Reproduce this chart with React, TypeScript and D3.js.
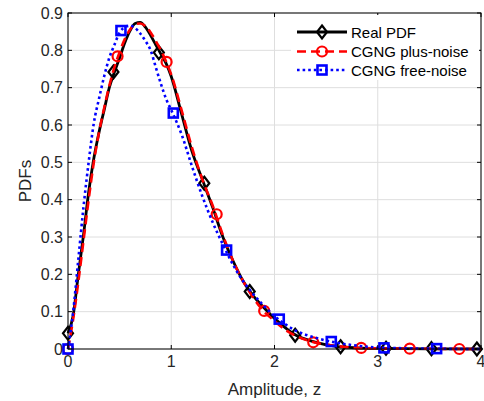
import React from "react";
import * as d3 from "d3";

const zGrid = [0, 0.05, 0.1, 0.15, 0.2, 0.25, 0.3, 0.35, 0.4, 0.45, 0.5, 0.55, 0.6, 0.65, 0.7, 0.75, 0.8, 0.85, 0.9, 0.95, 1.0, 1.1, 1.2, 1.3, 1.4, 1.5, 1.6, 1.7, 1.8, 1.9, 2.0, 2.1, 2.2, 2.4, 2.6, 2.8, 3.0, 3.5, 4.0];
const realPdf = [0.042, 0.09, 0.2, 0.305, 0.42, 0.51, 0.58, 0.64, 0.7, 0.742, 0.78, 0.82, 0.852, 0.872, 0.875, 0.862, 0.84, 0.815, 0.79, 0.765, 0.73, 0.63, 0.53, 0.455, 0.38, 0.3, 0.235, 0.18, 0.14, 0.11, 0.082, 0.058, 0.038, 0.018, 0.007, 0.003, 0.0015, 0.0005, 0];
const plusNoise = [0, 0.08, 0.18, 0.29, 0.4, 0.5, 0.58, 0.645, 0.705, 0.755, 0.795, 0.83, 0.855, 0.87, 0.872, 0.865, 0.848, 0.825, 0.8, 0.77, 0.735, 0.64, 0.54, 0.455, 0.385, 0.305, 0.235, 0.18, 0.135, 0.1, 0.075, 0.052, 0.036, 0.017, 0.008, 0.003, 0.0015, 0.0005, 0];
const freeNoise = [0, 0.1, 0.24, 0.38, 0.5, 0.605, 0.67, 0.73, 0.78, 0.815, 0.848, 0.862, 0.866, 0.86, 0.845, 0.825, 0.8, 0.755, 0.71, 0.67, 0.64, 0.575, 0.49, 0.41, 0.34, 0.28, 0.225, 0.18, 0.145, 0.115, 0.088, 0.067, 0.05, 0.03, 0.017, 0.009, 0.004, 0.001, 0];

const realMarkZ = [0, 0.44, 0.88, 1.32, 1.76, 2.2, 2.64, 3.08, 3.52, 3.96];
const realMarkV = [0.042, 0.742, 0.794, 0.444, 0.154, 0.037, 0.006, 0.002, 0.001, 0];
const plusMarkZ = [0, 0.48, 0.955, 1.44, 1.9, 2.375, 2.84, 3.31, 3.79];
const plusMarkV = [0, 0.784, 0.769, 0.361, 0.102, 0.018, 0.003, 0.001, 0];
const freeMarkZ = [0, 0.513, 1.02, 1.536, 2.046, 2.55, 3.06, 3.57];
const freeMarkV = [0, 0.853, 0.632, 0.265, 0.08, 0.02, 0.003, 0.001];

const xTicks = [0, 1, 2, 3, 4];
const yTicks = [0, 0.1, 0.2, 0.3, 0.4, 0.5, 0.6, 0.7, 0.8, 0.9];
const legendLabels = ["Real PDF", "CGNG plus-noise", "CGNG free-noise"];

const W = 484, H = 401;
const L = 68, R = 481, T = 13, B = 349;
const FONT = "'Liberation Sans', Arial, Helvetica, sans-serif";

export default function App() {
  const x = d3.scaleLinear().domain([0, 4]).range([L, R]);
  const y = d3.scaleLinear().domain([0, 0.9]).range([B, T]);
  const line = (vals: number[]) =>
    d3.line<number>().x((_, i) => x(zGrid[i])).y((v) => y(v)).curve(d3.curveMonotoneX)(vals) || "";

  const diamond = (cx: number, cy: number, k: string) => (
    <path key={k} d={`M${cx},${cy - 6.5}L${cx + 5},${cy}L${cx},${cy + 6.5}L${cx - 5},${cy}Z`} fill="none" stroke="#000" strokeWidth={2.2} />
  );
  const circle = (cx: number, cy: number, k: string) => (
    <circle key={k} cx={cx} cy={cy} r={5} fill="none" stroke="#ff0000" strokeWidth={2.2} />
  );
  const square = (cx: number, cy: number, k: string) => (
    <rect key={k} x={cx - 4.5} y={cy - 4.5} width={9} height={9} fill="none" stroke="#0000ff" strokeWidth={2.6} />
  );

  const legY = [32, 51.5, 70];
  return (
    <svg width={W} height={H} style={{ display: "block", position: "absolute", left: 0, top: 0 }} fontFamily={FONT}>
      <rect x={0} y={0} width={W} height={H} fill="#fff" />
      {/* grid */}
      {xTicks.map((t) => (
        <line key={"gx" + t} x1={x(t)} x2={x(t)} y1={T} y2={B} stroke="#dedede" strokeWidth={1} />
      ))}
      {yTicks.map((t) => (
        <line key={"gy" + t} x1={L} x2={R} y1={y(t)} y2={y(t)} stroke="#dedede" strokeWidth={1} />
      ))}
      {/* lines */}
      <path d={line(realPdf)} fill="none" stroke="#000" strokeWidth={2.8} />
      {realMarkZ.map((z, i) => diamond(x(z), y(realMarkV[i]), "d" + i))}
      <path d={line(plusNoise)} fill="none" stroke="#ff0000" strokeWidth={2.6} strokeDasharray="9,5" />
      {plusMarkZ.map((z, i) => circle(x(z), y(plusMarkV[i]), "c" + i))}
      <path d={line(freeNoise)} fill="none" stroke="#0000ff" strokeWidth={2.6} strokeDasharray="2.6,3" />
      {freeMarkZ.map((z, i) => square(x(z), y(freeMarkV[i]), "s" + i))}
      {/* axes box */}
      <rect x={L} y={T} width={R - L} height={B - T} fill="none" stroke="#000" strokeWidth={1} />
      {xTicks.map((t) => (
        <g key={"xt" + t}>
          <line x1={x(t)} x2={x(t)} y1={B} y2={B - 4} stroke="#000" />
          <line x1={x(t)} x2={x(t)} y1={T} y2={T + 4} stroke="#000" />
          <text x={x(t)} y={B + 18} textAnchor="middle" fontSize={16} fill="#262626">{t}</text>
        </g>
      ))}
      {yTicks.map((t) => (
        <g key={"yt" + t}>
          <line x1={L} x2={L + 4} y1={y(t)} y2={y(t)} stroke="#000" />
          <line x1={R} x2={R - 4} y1={y(t)} y2={y(t)} stroke="#000" />
          <text x={L - 5} y={y(t) + 5.5} textAnchor="end" fontSize={16} fill="#262626">{t === 0 ? "0" : d3.format(".1f")(t)}</text>
        </g>
      ))}
      <text x={(L + R) / 2} y={395} textAnchor="middle" fontSize={17} fill="#262626">Amplitude, z</text>
      <text transform={`translate(31,${(T + B) / 2}) rotate(-90)`} textAnchor="middle" fontSize={17} fill="#262626">PDFs</text>
      {/* legend */}
      <rect x={291} y={15} width={188} height={65} fill="#fff" />
      <line x1={297} x2={347} y1={legY[0]} y2={legY[0]} stroke="#000" strokeWidth={2.8} />
      {diamond(322, legY[0], "ld")}
      <line x1={297} x2={347} y1={legY[1]} y2={legY[1]} stroke="#ff0000" strokeWidth={2.6} strokeDasharray="9,5" />
      {circle(322, legY[1], "lc")}
      <line x1={297} x2={347} y1={legY[2]} y2={legY[2]} stroke="#0000ff" strokeWidth={2.6} strokeDasharray="2.6,3" />
      {square(322, legY[2], "ls")}
      {legendLabels.map((s, i) => (
        <text key={s} x={351} y={legY[i] + 5.5} fontSize={15} fill="#000">{s}</text>
      ))}
    </svg>
  );
}
